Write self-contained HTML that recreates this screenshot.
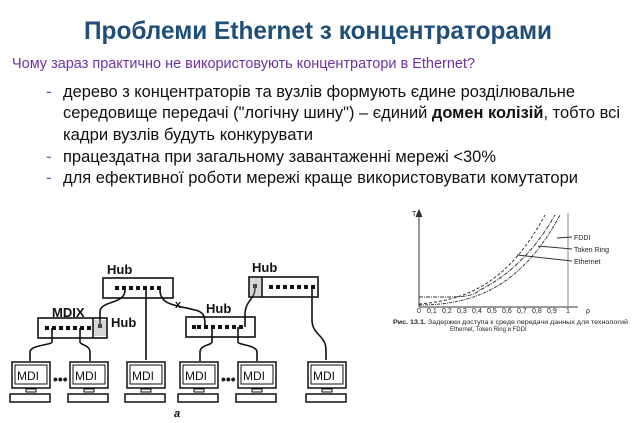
<!DOCTYPE html>
<html><head><meta charset="utf-8"><style>
html,body{margin:0;padding:0;background:#fff;width:640px;height:423px;overflow:hidden}
svg{display:block}
.t{font-family:"Liberation Sans","DejaVu Sans",sans-serif}
</style></head><body>
<svg width="640" height="423" viewBox="0 0 640 423" xmlns="http://www.w3.org/2000/svg">
<g class="t">
<text x="84" y="39" font-size="25" font-weight="bold" fill="#1f4e79" textLength="468" lengthAdjust="spacingAndGlyphs">Проблеми Ethernet з концентраторами</text>
<text x="12" y="68" font-size="15" fill="#7030a0" textLength="463" lengthAdjust="spacingAndGlyphs">Чому зараз практично не використовують концентратори в Ethernet?</text>
<g font-size="17" fill="#111">
<text x="46" y="97" fill="#4a6fa5">-</text>
<text x="63" y="97" textLength="512" lengthAdjust="spacingAndGlyphs">дерево з концентраторів та вузлів формують єдине розділювальне</text>
<text x="63" y="118" textLength="557" lengthAdjust="spacingAndGlyphs">середовище передачі ("логічну шину") – єдиний <tspan font-weight="bold">домен колізій</tspan>, тобто всі</text>
<text x="63" y="140" textLength="250" lengthAdjust="spacingAndGlyphs">кадри вузлів будуть конкурувати</text>
<text x="46" y="162" fill="#4a6fa5">-</text>
<text x="63" y="162" textLength="433" lengthAdjust="spacingAndGlyphs">працездатна при загальному завантаженні мережі &lt;30%</text>
<text x="46" y="183" fill="#4a6fa5">-</text>
<text x="63" y="183" textLength="515" lengthAdjust="spacingAndGlyphs">для ефективної роботи мережі краще використовувати комутатори</text>
</g>

<!-- network diagram -->
<g stroke="#111" fill="none" stroke-width="1.6">
<rect x="103" y="278" width="70" height="20"/>
<rect x="249" y="277" width="69" height="20"/>
<line x1="262" y1="277" x2="262" y2="297"/>
<rect x="38" y="318" width="69" height="20"/>
<line x1="93" y1="318" x2="93" y2="338"/>
<rect x="186" y="317" width="69" height="20"/>
<path d="M125 290 C125 305 100 300 100 312 L100 326"/>
<path d="M146 290 L146 360"/>
<path d="M160 290 C160 305 175 305 195 310 C205 312 205 318 205 327"/>
<path d="M255 288 C255 300 245 300 245 315 L245 327"/>
<path d="M312 287 L312 320 C312 335 326 335 326 350 L326 360"/>
<path d="M52 328 L52 342 C52 345 30 345 30 352 L30 361"/>
<path d="M80 328 L80 342 C80 345 90 345 90 352 L90 361"/>
<path d="M212 327 L212 342 C212 345 200 345 200 352 L200 361"/>
<path d="M238 327 L238 342 C238 345 257 345 257 352 L257 361"/>
</g>
<g fill="#111">
<g><rect x="115" y="286" width="4" height="4"/><rect x="122" y="286" width="4" height="4"/><rect x="129" y="286" width="4" height="4"/><rect x="136" y="286" width="4" height="4"/><rect x="143" y="286" width="4" height="4"/><rect x="150" y="286" width="4" height="4"/><rect x="157" y="286" width="4" height="4"/></g>
<g transform="translate(154,-1)"><rect x="115" y="286" width="4" height="4"/><rect x="122" y="286" width="4" height="4"/><rect x="129" y="286" width="4" height="4"/><rect x="136" y="286" width="4" height="4"/><rect x="143" y="286" width="4" height="4"/><rect x="150" y="286" width="4" height="4"/><rect x="157" y="286" width="4" height="4"/></g>
<g transform="translate(-70,40)"><rect x="115" y="286" width="4" height="4"/><rect x="122" y="286" width="4" height="4"/><rect x="129" y="286" width="4" height="4"/><rect x="136" y="286" width="4" height="4"/><rect x="143" y="286" width="4" height="4"/><rect x="150" y="286" width="4" height="4"/><rect x="157" y="286" width="4" height="4"/></g>
<g transform="translate(82,39)"><rect x="115" y="286" width="4" height="4"/><rect x="122" y="286" width="4" height="4"/><rect x="129" y="286" width="4" height="4"/><rect x="136" y="286" width="4" height="4"/><rect x="143" y="286" width="4" height="4"/><rect x="150" y="286" width="4" height="4"/><rect x="157" y="286" width="4" height="4"/></g>
<rect x="192" y="325" width="4" height="4"/>
<rect x="98" y="324" width="4" height="4"/><rect x="253" y="284" width="4" height="4"/>
<rect x="94" y="320" width="12" height="16" fill="#999" opacity="0.4"/>
<rect x="250" y="278" width="11" height="18" fill="#999" opacity="0.4"/>
</g>
<g font-weight="bold" font-size="13" fill="#111">
<text x="107" y="274">Hub</text>
<text x="252" y="272">Hub</text>
<text x="52" y="317">MDIX</text>
<text x="111" y="327">Hub</text>
<text x="206" y="313">Hub</text>
<text x="175" y="308" font-size="11">x</text>
<text x="174" y="417" font-size="11" font-style="italic">a</text>
<text x="53" y="384" font-size="14">•••</text>
<text x="221" y="384" font-size="14">•••</text>
</g>
<g font-size="13" fill="#111" stroke-width="1.5">
<g id="pc">
<rect x="12" y="362" width="38" height="26" fill="none" stroke="#111"/>
<rect x="15" y="365" width="32" height="19" fill="none" stroke="#111" stroke-width="1"/>
<text x="17" y="380" font-size="12">MDI</text>
<rect x="26" y="389" width="10" height="3" fill="none" stroke="#111" stroke-width="1"/>
<rect x="10" y="394" width="40" height="8" fill="none" stroke="#111"/>
</g>
<use href="#pc" x="58"/><use href="#pc" x="115"/><use href="#pc" x="168"/><use href="#pc" x="226"/><use href="#pc" x="296"/>
</g>

<!-- graph -->
<g stroke="#333" fill="none" stroke-width="1">
<line x1="419" y1="307" x2="419" y2="212"/>
<path d="M416 217 L419 210 L422 217" fill="#333"/>
<line x1="419" y1="307" x2="578" y2="307"/>
<line x1="568" y1="213" x2="568" y2="307" stroke="#888"/>
<path d="M419 304 C470 300 510 280 545 215" stroke-dasharray="3,2"/>
<path d="M419 297 C460 297 470 298 480 290 C510 275 535 250 555 215" stroke-dasharray="4,1,1,1"/>
<path d="M419 305 C470 305 520 290 560 215" stroke-dasharray="3,1,1,1"/>
<line x1="557" y1="238" x2="572" y2="237"/>
<line x1="538" y1="246" x2="572" y2="249"/>
<line x1="517" y1="255" x2="572" y2="261"/>
</g>
<g font-size="7" fill="#222">
<text x="412" y="216">T</text>
<text x="574" y="240">FDDI</text>
<text x="574" y="252">Token Ring</text>
<text x="574" y="264">Ethernet</text>
<text x="417" y="313">0</text><text x="427" y="313">0,1</text><text x="442" y="313">0,2</text><text x="457" y="313">0,3</text><text x="472" y="313">0,4</text><text x="487" y="313">0,5</text><text x="502" y="313">0,6</text><text x="517" y="313">0,7</text><text x="532" y="313">0,8</text><text x="547" y="313">0,9</text>
<text x="566" y="313">1</text><text x="586" y="313">ρ</text>
<text x="393" y="324" font-size="6" textLength="235" lengthAdjust="spacingAndGlyphs"><tspan font-weight="bold">Рис. 13.1.</tspan> Задержки доступа к среде передачи данных для технологий</text>
<text x="450" y="331" font-size="6">Ethernet, Token Ring и FDDI</text>
</g>
</g>
</svg>
</body></html>
